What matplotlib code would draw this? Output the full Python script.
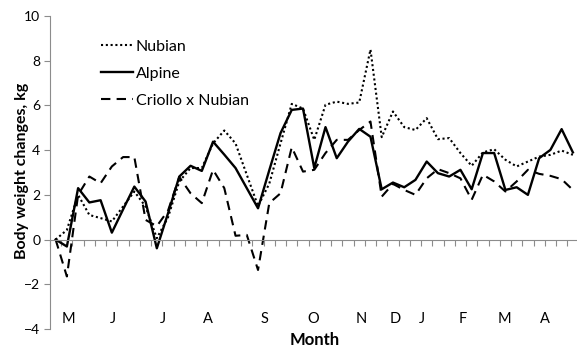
import numpy as np
import matplotlib
matplotlib.use("Agg")
import matplotlib.pyplot as plt
from matplotlib.ticker import MultipleLocator, NullFormatter

plt.rcParams['font.family'] = ['Lato', 'DejaVu Sans']

nubian = [0.0, 0.43, 2.0, 1.1, 0.96, 0.81, 1.48, 2.15, 1.48, 0.06,
          1.0, 2.6, 3.2, 3.2, 4.3, 4.88, 4.3, 2.9, 1.5, 2.5,
          4.3, 6.07, 5.86, 4.46, 6.03, 6.17, 6.07, 6.13, 8.5, 4.58,
          5.73, 5.03, 4.9, 5.43, 4.49, 4.54, 3.87, 3.3, 3.9, 4.04,
          3.57, 3.27, 3.49, 3.71, 3.79, 3.98, 3.79]
alpine = [0.0, -0.31, 2.3, 1.66, 1.76, 0.31, 1.35, 2.37, 1.7, -0.39,
          1.18, 2.82, 3.3, 3.07, 4.38, 3.8, 3.2, 2.3, 1.4, 3.1,
          4.76, 5.8, 5.86, 3.2, 5.03, 3.64, 4.38, 4.95, 4.6, 2.25,
          2.55, 2.34, 2.67, 3.49, 2.97, 2.82, 3.12, 2.25, 3.87, 3.87,
          2.22, 2.34, 2.0, 3.64, 4.01, 4.94, 3.9]
criollo = [0.0, -1.65, 2.0, 2.82, 2.52, 3.27, 3.69, 3.69, 0.88, 0.6,
           1.3, 2.8, 2.07, 1.63, 3.12, 2.3, 0.17, 0.21, -1.36, 1.63,
           2.07, 4.13, 3.04, 3.12, 3.87, 4.46, 4.46, 4.9, 5.28, 1.92,
           2.49, 2.22, 2.0, 2.74, 3.15, 2.97, 2.74, 1.78, 2.9, 2.6,
           2.15, 2.6, 3.12, 2.94, 2.85, 2.7, 2.22]

months = ['M', 'J', 'J', 'A', 'S', 'O', 'N', 'D', 'J', 'F', 'M', 'A']
month_pos = [1.1, 5.1, 9.5, 13.5, 18.6, 22.9, 27.2, 30.2, 32.6, 36.2, 39.9, 43.5]

W, H = 577, 347
fig = plt.figure(figsize=(W / 100, H / 100), dpi=100)
ax = fig.add_axes([50 / W, 18 / H, 528.5 / W, 313 / H])

x = np.arange(len(alpine))
ax.plot(x, nubian, color='black', lw=1.5, linestyle=(0, (1, 1.3)), label='Nubian')
ax.plot(x, alpine, color='black', lw=1.7, label='Alpine')
ax.plot(x, criollo, color='black', lw=1.5, linestyle=(0, (4.5, 3)), label='Criollo x Nubian')

ax.set_xlim(-0.5, len(alpine) - 0.5)
ax.set_ylim(-4, 10)
ax.yaxis.set_major_locator(MultipleLocator(2))

grey = '#8c8c8c'
for s in ['top', 'right']:
    ax.spines[s].set_visible(False)
ax.spines['left'].set_color(grey)
ax.spines['bottom'].set_color(grey)
ax.spines['bottom'].set_position(('data', 0))
ax.set_xticks(np.arange(-0.5, len(alpine), 1))
ax.xaxis.set_major_formatter(NullFormatter())
ax.tick_params(axis='x', direction='out', length=4, color=grey, width=0.8)
ax.tick_params(axis='y', direction='out', length=4, color=grey, width=0.8,
               labelsize=10, pad=3)

for m, p in zip(months, month_pos):
    ax.text(p, -3.57, m, ha='center', va='center', fontsize=10.5)

fig.text(22 / W, 1 - 171 / H, 'Body weight changes, kg', rotation=90,
         ha='center', va='center', fontsize=11.5, fontweight='bold')
ax.text(0.5, -0.035, 'Month', transform=ax.transAxes, ha='center', va='center',
        fontsize=12, fontweight='bold')

ax.legend(loc='upper left', bbox_to_anchor=(0.085, 0.945), frameon=False,
          fontsize=11.5, handlelength=2.0, handletextpad=0.15, labelspacing=0.8,
          borderaxespad=0)

fig.savefig('out.png', dpi=100)
